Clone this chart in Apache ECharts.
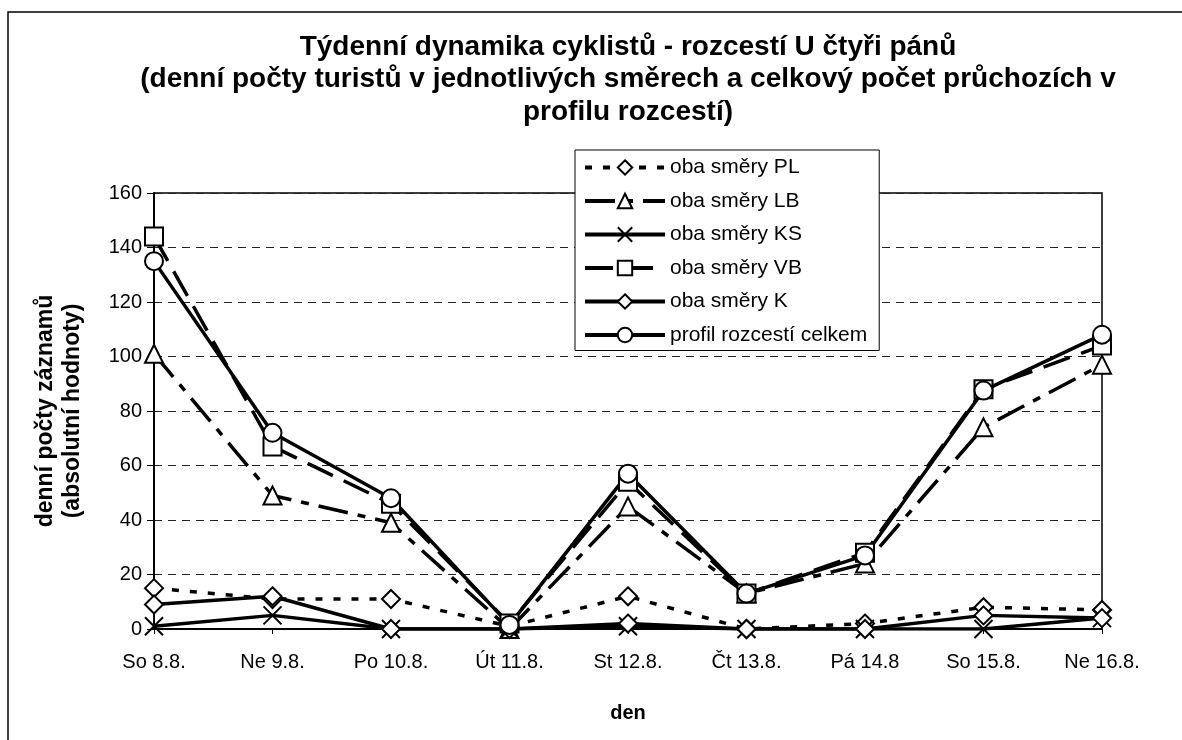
<!DOCTYPE html>
<html>
<head>
<meta charset="utf-8">
<script src="https://cdn.jsdelivr.net/npm/echarts@6/dist/echarts.min.js"></script>
<style>
  html, body { margin: 0; padding: 0; background: #fff; }
  #chart { width: 1182px; height: 740px; }
</style>
</head>
<body>
<div id="chart"></div>
<script>
// dny
const days = ['So 8.8.', 'Ne 9.8.', 'Po 10.8.', 'Út 11.8.', 'St 12.8.', 'Čt 13.8.', 'Pá 14.8', 'So 15.8.', 'Ne 16.8.']

// denní počty (oba směry)
const pl = [15, 11, 11, 1, 12, 0, 2, 8, 7]
const lb = [101, 49, 39, 0, 45, 13, 24, 74, 97]
const ks = [1, 5, 0, 0, 1, 0, 0, 0, 4]
const vb = [144, 67, 46, 2, 54, 13, 28, 88, 104]
const k = [9, 12, 0, 0, 2, 0, 0, 5, 4]
const celkem = [135, 72, 48, 1.5, 57, 13, 27, 87.5, 108]

const yTicks = [0, 20, 40, 60, 80, 100, 120, 140, 160]

const FONT = '"Liberation Sans", Arial, sans-serif'
const X_PATH = 'path://M0,0L10,10M10,0L0,10'

function line(name, data, symbol, dash) {
  return {
    name: name,
    type: 'line',
    data: data,
    symbol: symbol,
    symbolSize: 18,
    showSymbol: true,
    lineStyle: { color: '#000', width: 3.5, type: dash },
    itemStyle: { color: '#fff', borderColor: '#000', borderWidth: 2 },
    emphasis: { disabled: true }
  }
}

const chart = echarts.init(document.getElementById('chart'))
chart.setOption({
  animation: false,
  backgroundColor: '#fff',
  textStyle: { fontFamily: FONT, color: '#000' },
  graphic: [
    {
      type: 'rect',
      shape: { x: 8, y: 12, width: 1400, height: 1000 },
      style: { fill: null, stroke: '#000', lineWidth: 1.5 },
      silent: true
    },
    {
      type: 'text',
      x: 628,
      y: 31,
      style: {
        text: 'Týdenní dynamika cyklistů - rozcestí U čtyři pánů\n(denní počty turistů v jednotlivých směrech a celkový počet průchozích v\nprofilu rozcestí)',
        font: 'bold 28px ' + FONT,
        align: 'center',
        verticalAlign: 'top',
        lineHeight: 32.5,
        fill: '#000'
      }
    }
  ],
  legend: {
    orient: 'vertical',
    left: 575,
    top: 150,
    padding: [7, 12, 5, 8],
    backgroundColor: '#fff',
    borderColor: '#000',
    borderWidth: 1,
    itemWidth: 80,
    itemHeight: 18,
    itemGap: 12.5,
    lineStyle: { width: 4 },
    textStyle: { fontSize: 21, fontFamily: FONT, color: '#000' },
    selectedMode: false,
    data: ['oba směry PL', 'oba směry LB', 'oba směry KS', 'oba směry VB', 'oba směry K', 'profil rozcestí celkem']
  },
  grid: {
    left: 154,
    right: 80,
    top: 193,
    bottom: 111,
    show: true,
    borderColor: '#000',
    borderWidth: 1.5,
    backgroundColor: '#fff'
  },
  xAxis: {
    type: 'category',
    data: days,
    boundaryGap: false,
    name: 'den',
    nameLocation: 'middle',
    nameGap: 74,
    nameTextStyle: { fontSize: 20, fontWeight: 'bold', color: '#000' },
    axisLine: { lineStyle: { color: '#000', width: 2 } },
    axisTick: { show: true, length: 5, lineStyle: { color: '#000' } },
    axisLabel: { fontSize: 20, color: '#000', margin: 23 },
    splitLine: { show: false }
  },
  yAxis: {
    type: 'value',
    min: yTicks[0],
    max: yTicks[yTicks.length - 1],
    interval: 20,
    name: 'denní počty záznamů\n(absolutní hodnoty)',
    nameLocation: 'middle',
    nameGap: 68,
    nameRotate: 90,
    nameTextStyle: { fontSize: 23, fontWeight: 'bold', color: '#000', lineHeight: 27 },
    axisLine: { show: true, lineStyle: { color: '#000', width: 2 } },
    axisTick: { show: true, length: 7, lineStyle: { color: '#000' } },
    axisLabel: { fontSize: 20, color: '#000', margin: 12 },
    splitLine: { show: true, lineStyle: { color: '#222', width: 1, type: [8, 6] } }
  },
  series: [
    line('oba směry PL', pl, 'diamond', [7, 11]),
    line('oba směry LB', lb, 'triangle', [30, 10, 8, 10]),
    line('oba směry KS', ks, X_PATH, 'solid'),
    line('oba směry VB', vb, 'rect', [28, 12]),
    line('oba směry K', k, 'diamond', 'solid'),
    line('profil rozcestí celkem', celkem, 'circle', 'solid')
  ]
})
</script>
</body>
</html>
